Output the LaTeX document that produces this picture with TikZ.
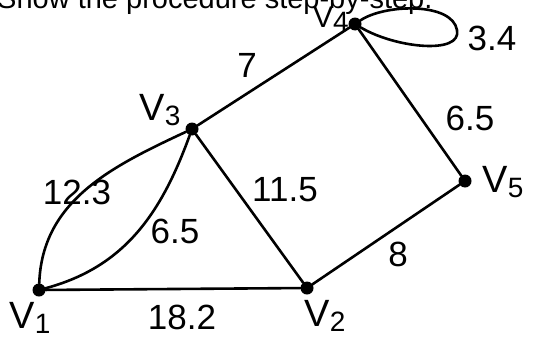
\documentclass[tikz,border=0pt]{standalone}
\usepackage{fontspec}
\setmainfont{Liberation Sans}
\newcommand{\vname}[1]{V\raisebox{-0.15em}{\fontsize{28}{28}\selectfont #1}}

\begin{document}
\begin{tikzpicture}[x=1pt, y=-1pt,
  vertex/.style={circle, fill=black, inner sep=0pt, minimum size=13pt},
  edgelbl/.style={inner sep=0pt, font=\fontsize{35}{35}\selectfont},
  vtxlbl/.style={inner sep=0pt, font=\fontsize{38}{38}\selectfont},
  wline/.style={line width=2.6pt, line cap=round}
]
\useasboundingbox (0,0) rectangle (534,340);
\node[anchor=base west, inner sep=0pt, font=\fontsize{29}{29}\selectfont] (title) at (-3,9) {Show the procedure step-by-step.};

\node[vertex] (v1) at (39,290) {};
\node[vertex] (v2) at (307,288) {};
\node[vertex] (v3) at (192,129) {};
\node[vertex] (v4) at (355,24) {};
\node[vertex] (v5) at (465,181) {};
\coordinate (looptip) at (457,30);

\draw[wline] (v1) -- (v2);
\draw[wline] (v3) -- (v2);
\draw[wline] (v3) -- (v4);
\draw[wline] (v4) -- (v5);
\draw[wline] (v5) -- (v2);
\draw[wline] (v1) to[out=88, in=205] (v3);
\draw[wline] (v1) to[out=15, in=250] (v3);
\draw[wline] (v4) .. controls (385,4) and (452,2) .. (looptip)
  .. controls (462,55) and (395,48) .. (v4);

\node[vtxlbl] (n1) at (30,318) {\vname{1}};
\node[vtxlbl] (n2) at (325,316) {\vname{2}};
\node[vtxlbl] (n3) at (160,110) {\vname{3}};
\node[vtxlbl, font=\fontsize{30}{30}\selectfont] (n4) at (331,19) {\vname{4}};
\node[vtxlbl] (n5) at (503,182) {\vname{5}};

\node[edgelbl] (w12) at (182,317) {18.2};
\node[edgelbl] (w25) at (398,254) {8};
\node[edgelbl] (w45) at (470,118) {6.5};
\node[edgelbl] (w23) at (285,190) {11.5};
\node[edgelbl] (w13b) at (175,231) {6.5};
\node[edgelbl] (w13a) at (77,192) {12.3};
\node[edgelbl] (w34) at (247,65) {7};
\node[edgelbl] (w44) at (492,38) {3.4};
\end{tikzpicture}
\end{document}
